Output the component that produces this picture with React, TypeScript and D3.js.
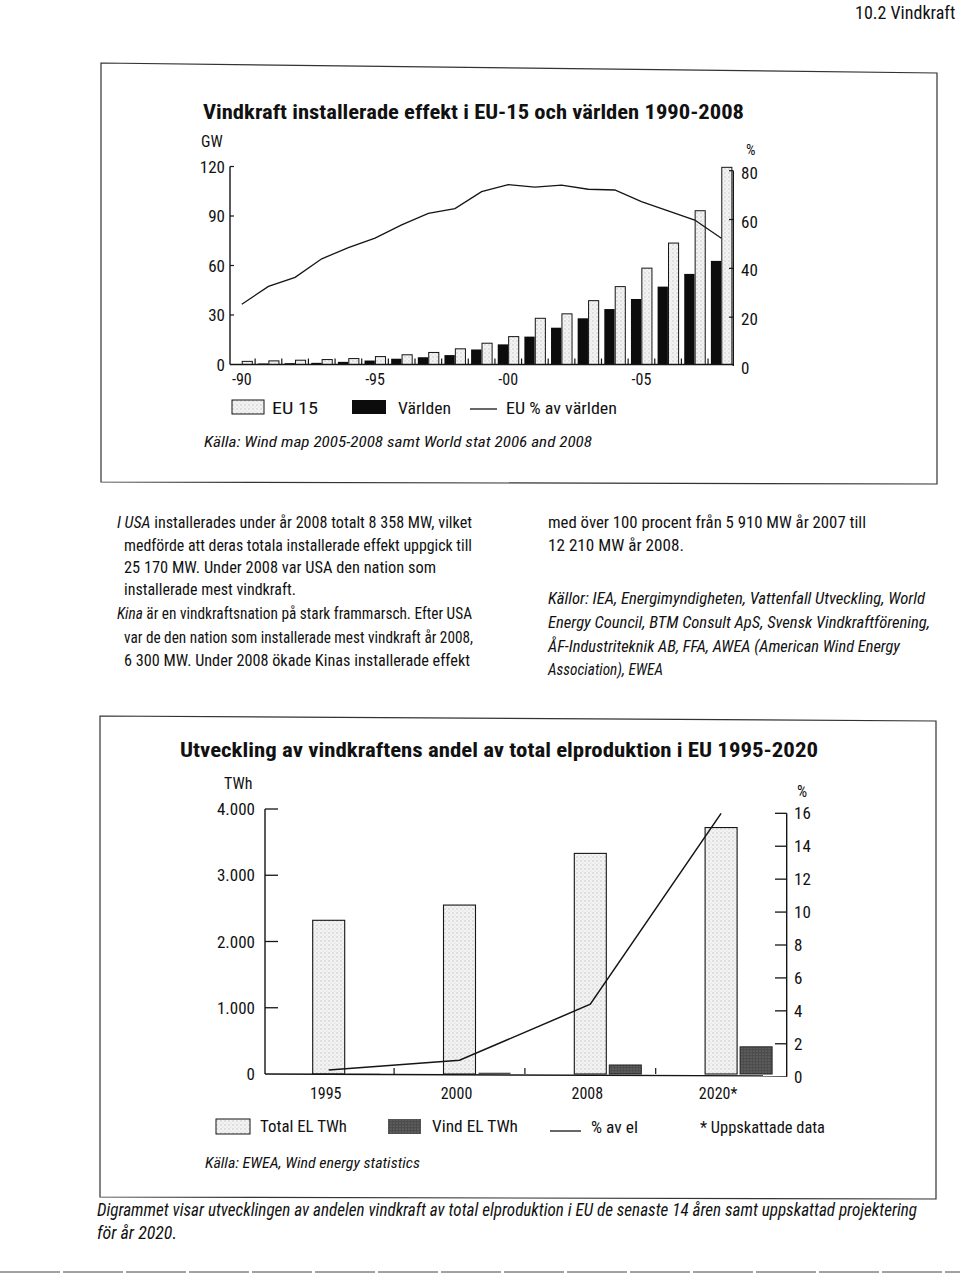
import React from 'react';
import * as d3 from 'd3';

// ---------- Chart 1 data ----------
const years1 = ['1990','1991','1992','1993','1994','1995','1996','1997','1998','1999','2000','2001','2002','2003','2004','2005','2006','2007','2008'];
const xLabelYears1 = ['1990','1995','2000','2005'];
const xLabels1 = ['-90','-95','-00','-05'];
// light bars (legend: EU 15)
const eu15GW = [1.9,2.2,2.6,3.0,3.6,4.8,5.9,7.3,9.5,12.9,16.9,28.0,30.7,38.7,47.2,58.4,73.6,93.2,119.5];
// black bars (legend: Världen)
const worldGW = [0.3,0.6,0.8,1.0,1.6,2.4,3.5,4.4,5.7,9.1,12.2,16.9,22.3,28.0,33.6,39.7,47.2,54.9,62.8];
// line (EU % av världen)
const euSharePct = [25.3,32.6,36.3,43.9,48.5,52.4,57.8,62.5,64.5,71.4,74.3,73.3,74.1,72.4,72.1,67.3,63.5,59.8,52.3];
const leftTicks1 = [0,30,60,90,120];
const rightTicks1 = [0,20,40,60,80];

// ---------- Chart 2 data ----------
const cats2 = ['1995','2000','2008','2020*'];
const totalTWh = [2320,2550,3330,3720];
const windTWh = [4,20,136,410];
const windSharePct = [0.4,1.0,4.4,16.0];
const leftTicks2 = [0,1000,2000,3000,4000];
const leftTickLabels2 = ['0','1.000','2.000','3.000','4.000'];
const rightTicks2 = [0,2,4,6,8,10,12,14,16];

const COND = "'Liberation Sans Narrow','Arial Narrow','Roboto Condensed','DejaVu Sans Condensed','Liberation Sans',Arial,sans-serif";

type TP = { x: number; y: number; w?: number; size: number; italic?: boolean; bold?: boolean; anchor?: 'start'|'middle'|'end'; children: React.ReactNode; fill?: string };
function T({ x, y, w, size, italic, bold, anchor = 'start', children, fill = '#111' }: TP) {
  const extra: any = w ? { textLength: w, lengthAdjust: 'spacingAndGlyphs' } : {};
  return (
    <text x={x} y={y} fontSize={size} fontFamily={COND} fontStyle={italic ? 'italic' : 'normal'}
      fontWeight={bold ? 700 : 400} textAnchor={anchor} dominantBaseline="central" fill={fill}
      style={{ fontStretch: 'condensed' }} {...extra}>{children}</text>
  );
}

export default function App() {
  // Chart 1 scales
  const x1 = d3.scaleBand<string>().domain(years1).range([228.5, 734.7]).paddingInner(0).paddingOuter(0);
  const cx1 = (y: string) => (x1(y) as number) + x1.bandwidth() / 2;
  const yL1 = d3.scaleLinear().domain([0, 120]).range([364.5, 166.5]);
  const yR1 = d3.scaleLinear().domain([0, 80]).range([366, 170.7]);
  const line1 = d3.line<number>().x((_, i) => cx1(years1[i])).y(d => yR1(d));

  // Chart 2 scales
  const x2 = d3.scaleBand<string>().domain(cats2).range([263.3, 786.5]).paddingInner(0).paddingOuter(0);
  const yL2 = d3.scaleLinear().domain([0, 4000]).range([1074, 809]);
  const yR2 = d3.scaleLinear().domain([0, 16]).range([1076.7, 813.3]);
  const totLeft = (c: string) => (x2(c) as number) + 49.4;
  const barW2 = 32;
  const line2 = d3.line<number>().x((_, i) => totLeft(cats2[i]) + barW2 / 2).y(d => yR2(d));

  const ink = '#151515';

  return (
    <svg width={960} height={1275} style={{ position: 'absolute', left: 0, top: 0, display: 'block', background: '#fff' }}>
      <defs>
        <pattern id="stip" width="4" height="4" patternUnits="userSpaceOnUse">
          <rect width="4" height="4" fill="#f3f3f3" />
          <circle cx="1" cy="1" r="0.7" fill="#bdbdbd" />
          <circle cx="3" cy="3" r="0.6" fill="#d4d4d4" />
        </pattern>
        <pattern id="dark" width="3" height="3" patternUnits="userSpaceOnUse">
          <rect width="3" height="3" fill="#4d4d4d" />
          <circle cx="1" cy="1" r="0.6" fill="#8a8a8a" />
        </pattern>
      </defs>

      {/* page header */}
      <T x={855} y={12} size={18}>10.2 Vindkraft</T>

      {/* Box 1 */}
      <path d="M101,63 L937,73 L937,484 L101,482 Z" fill="none" stroke="#333" strokeWidth={1.2} />

      {/* Chart 1 title */}
      <T x={203} y={112} w={541} size={21} bold>Vindkraft installerade effekt i EU-15 och världen 1990-2008</T>
      <T x={201} y={141} size={16}>GW</T>
      <T x={746} y={150} size={15}>%</T>

      {/* Chart 1 bars */}
      {years1.map((yr, i) => (
        <g key={yr}>
          <rect x={cx1(yr) - 10.5} y={yL1(worldGW[i])} width={10.3} height={yL1(0) - yL1(worldGW[i])} fill="#0c0c0c" />
          <rect x={cx1(yr) + 0.4} y={yL1(eu15GW[i])} width={10.1} height={yL1(0) - yL1(eu15GW[i])} fill="url(#stip)" stroke={ink} strokeWidth={1} />
        </g>
      ))}
      {/* between-group ticks */}
      {years1.slice(1).map(yr => (
        <line key={'t' + yr} x1={x1(yr) as number} x2={x1(yr) as number} y1={yL1(0)} y2={yL1(0) - 6} stroke={ink} strokeWidth={1.2} />
      ))}
      {/* axes */}
      <line x1={230} x2={230} y1={yL1(120)} y2={yL1(0)} stroke={ink} strokeWidth={1.4} />
      <line x1={230} x2={733.3} y1={yL1(0)} y2={yL1(0)} stroke={ink} strokeWidth={1.4} />
      <line x1={733.3} x2={733.3} y1={yR1(80)} y2={yR1(0)} stroke={ink} strokeWidth={1.4} />
      {leftTicks1.map(t => (
        <g key={'l1' + t}>
          {t > 0 && <line x1={230} x2={234} y1={yL1(t)} y2={yL1(t)} stroke={ink} strokeWidth={1.2} />}
          <T x={225} y={yL1(t)} size={17} anchor="end">{String(t)}</T>
        </g>
      ))}
      {rightTicks1.map(t => (
        <g key={'r1' + t}>
          {t > 0 && <line x1={729} x2={733.3} y1={yR1(t)} y2={yR1(t)} stroke={ink} strokeWidth={1.2} />}
          <T x={741} y={yR1(t) + 2} size={17}>{String(t)}</T>
        </g>
      ))}
      {xLabelYears1.map((yr, i) => (
        <T key={'xl' + yr} x={cx1(yr)} y={379} size={16} anchor="middle">{xLabels1[i]}</T>
      ))}
      <path d={line1(euSharePct) || ''} fill="none" stroke={ink} strokeWidth={1.3} />

      {/* Legend 1 */}
      <rect x={232} y={400} width={32} height={14} fill="url(#stip)" stroke={ink} strokeWidth={1} />
      <T x={272} y={408} w={46} size={17}>EU 15</T>
      <rect x={352} y={400} width={34} height={14} fill="#0c0c0c" />
      <T x={398} y={408} w={53} size={17}>Världen</T>
      <line x1={470} x2={497} y1={409} y2={409} stroke={ink} strokeWidth={1.3} />
      <T x={506} y={408} w={111} size={17}>EU % av världen</T>
      <T x={204} y={442} w={388} size={15} italic>Källa: Wind map 2005-2008 samt World stat 2006 and 2008</T>

      {/* Paragraph text */}
      <text x={117} y={522} fontSize={16.5} fontFamily={COND} dominantBaseline="central" fill="#111" textLength={355} lengthAdjust="spacingAndGlyphs" style={{ fontStretch: 'condensed' }}>
        <tspan fontStyle="italic">I USA</tspan> installerades under år 2008 totalt 8 358 MW, vilket
      </text>
      <T x={124} y={545} w={348} size={16.5}>medförde att deras totala installerade effekt uppgick till</T>
      <T x={124} y={567} w={312} size={16.5}>25 170 MW. Under 2008 var USA den nation som</T>
      <T x={124} y={589} w={172} size={16.5}>installerade mest vindkraft.</T>
      <text x={117} y={613} fontSize={16.5} fontFamily={COND} dominantBaseline="central" fill="#111" textLength={355} lengthAdjust="spacingAndGlyphs" style={{ fontStretch: 'condensed' }}>
        <tspan fontStyle="italic">Kina</tspan> är en vindkraftsnation på stark frammarsch. Efter USA
      </text>
      <T x={124} y={637} w={349} size={16.5}>var de den nation som installerade mest vindkraft år 2008,</T>
      <T x={124} y={660} w={346} size={16.5}>6 300 MW. Under 2008 ökade Kinas installerade effekt</T>

      <T x={548} y={522} w={318} size={16.5}>med över 100 procent från 5 910 MW år 2007 till</T>
      <T x={548} y={545} w={136} size={16.5}>12 210 MW år 2008.</T>
      <T x={548} y={598} w={377} size={16.5} italic>Källor: IEA, Energimyndigheten, Vattenfall Utveckling, World</T>
      <T x={548} y={622} w={382} size={16.5} italic>Energy Council, BTM Consult ApS, Svensk Vindkraftförening,</T>
      <T x={548} y={646} w={352} size={16.5} italic>ÅF-Industriteknik AB, FFA, AWEA (American Wind Energy</T>
      <T x={548} y={669} w={115} size={16.5} italic>Association), EWEA</T>

      {/* Box 2 */}
      <path d="M100,716 L936,721 L936,1199 L100,1197 Z" fill="none" stroke="#333" strokeWidth={1.2} />

      <T x={180} y={750} w={638} size={21} bold>Utveckling av vindkraftens andel av total elproduktion i EU 1995-2020</T>
      <T x={224} y={783} size={16}>TWh</T>
      <T x={797} y={791} size={16}>%</T>

      {/* Chart 2 bars */}
      {cats2.map((c, i) => (
        <g key={c}>
          <rect x={totLeft(c)} y={yL2(totalTWh[i])} width={barW2} height={yL2(0) - yL2(totalTWh[i])} fill="url(#stip)" stroke={ink} strokeWidth={1.1} />
          <rect x={totLeft(c) + barW2 + 3} y={yL2(windTWh[i])} width={barW2} height={yL2(0) - yL2(windTWh[i])} fill="url(#dark)" stroke="#222" strokeWidth={windTWh[i] > 50 ? 1 : 0} />
          <T x={totLeft(c) + barW2 / 2 - 3} y={1093} size={16} anchor="middle">{c}</T>
        </g>
      ))}
      {cats2.slice(1).map(c => (
        <line key={'t2' + c} x1={x2(c) as number} x2={x2(c) as number} y1={yL2(0)} y2={yL2(0) - 6} stroke={ink} strokeWidth={1.2} />
      ))}
      <line x1={265} x2={265} y1={yL2(4000)} y2={yL2(0)} stroke={ink} strokeWidth={1.4} />
      <line x1={265} x2={786.7} y1={yL2(0)} y2={yL2(0) + 2} stroke={ink} strokeWidth={1.4} />
      <line x1={786.7} x2={786.7} y1={yR2(16)} y2={yR2(0)} stroke={ink} strokeWidth={1.4} />
      {leftTicks2.map((t, i) => (
        <g key={'l2' + t}>
          {t > 0 && <line x1={265} x2={278} y1={yL2(t)} y2={yL2(t)} stroke={ink} strokeWidth={1.3} />}
          <T x={255} y={yL2(t)} size={17} anchor="end">{leftTickLabels2[i]}</T>
        </g>
      ))}
      {rightTicks2.map(t => (
        <g key={'r2' + t}>
          {t > 0 && <line x1={775} x2={786.7} y1={yR2(t)} y2={yR2(t)} stroke={ink} strokeWidth={1.3} />}
          <T x={794} y={yR2(t)} size={17}>{String(t)}</T>
        </g>
      ))}
      <path d={line2(windSharePct) || ''} fill="none" stroke={ink} strokeWidth={1.5} />

      {/* Legend 2 */}
      <rect x={216} y={1119} width={34} height={15} fill="url(#stip)" stroke={ink} strokeWidth={1} />
      <T x={260} y={1126} w={87} size={17}>Total EL TWh</T>
      <rect x={388} y={1119} width={33} height={15} fill="url(#dark)" />
      <T x={432} y={1126} w={86} size={17}>Vind EL TWh</T>
      <line x1={550} x2={581} y1={1131} y2={1131} stroke={ink} strokeWidth={1.3} />
      <T x={591} y={1127} w={47} size={17}>% av el</T>
      <T x={700} y={1127} w={125} size={16}>* Uppskattade data</T>
      <T x={205} y={1163} w={215} size={15} italic>Källa: EWEA, Wind energy statistics</T>

      {/* Footer caption */}
      <T x={97} y={1210} w={820} size={17.5} italic>Digrammet visar utvecklingen av andelen vindkraft av total elproduktion i EU de senaste 14 åren samt uppskattad projektering</T>
      <T x={97} y={1233} w={80} size={17.5} italic>för år 2020.</T>

      <line x1={0} x2={960} y1={1272} y2={1272} stroke="#444" strokeWidth={1} strokeDasharray="60 3" />
    </svg>
  );
}
